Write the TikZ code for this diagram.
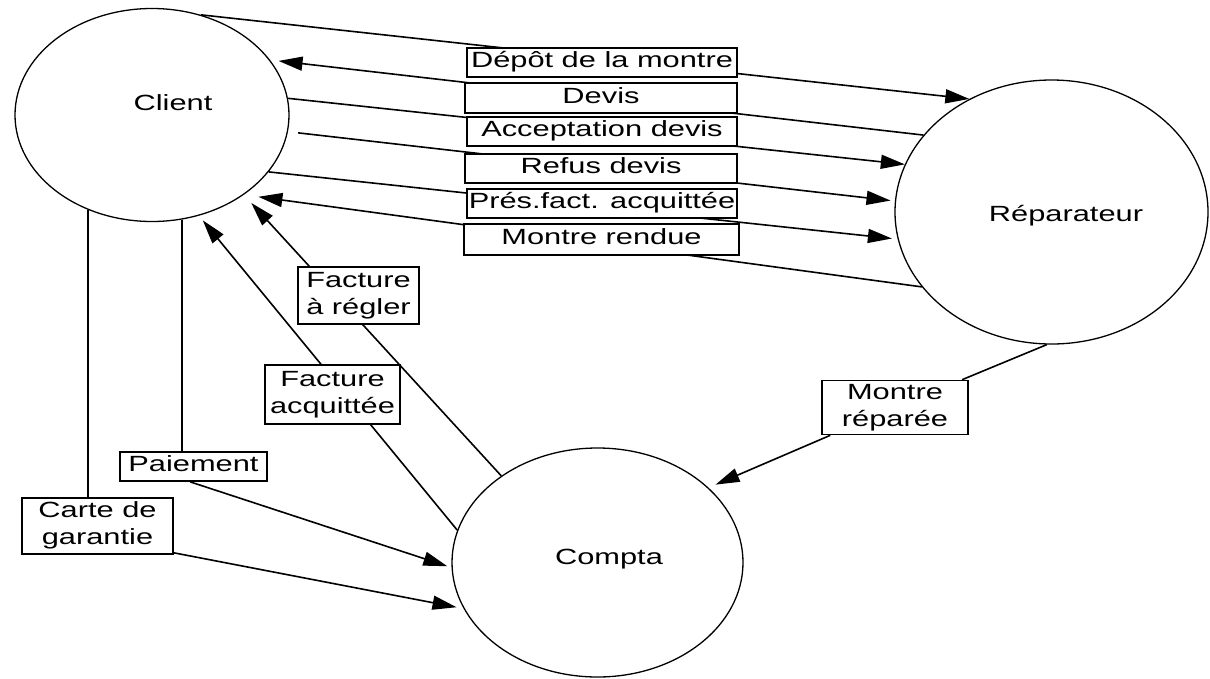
\documentclass[tikz,border=0pt]{standalone}
\usepackage{fontspec}
\setmainfont{Liberation Sans}[FakeStretch=1.4]
\usetikzlibrary{arrows.meta,shapes.geometric,backgrounds}
\newcommand\lblfont{\fontsize{22}{27}\selectfont}
\begin{document}
\begin{tikzpicture}[x=1pt,y=-1pt,
  proc/.style={ellipse, draw, line width=1.3pt, inner sep=0pt},
  procname/.style={anchor=base, inner sep=0pt, font=\lblfont},
  lbl/.style={draw, fill=white, line width=1.6pt, inner sep=0pt, align=center, font=\lblfont},
  link/.style={line width=1.6pt},
  flow/.style={link, -{Triangle[length=24pt,width=14pt]}}]
\useasboundingbox (0,0) rectangle (1210,678);

% actors
\node[proc, minimum width=274pt, minimum height=213pt] (client) at (152,115) {};
\node[proc, minimum width=313pt, minimum height=264pt] (rep) at (1051.5,212) {};
\node[proc, minimum width=291pt, minimum height=229pt] (compta) at (597.5,562.5) {};
\node[procname] (clientname) at (173,110.5) {Client};
\node[procname] (repname) at (1066,221) {Réparateur};
\node[procname] (comptaname) at (609,564) {Compta};

% flow labels
\node[lbl, minimum width=270pt, minimum height=29pt] (depot) at (602,62.5) {\strut Dépôt de la montre};
\node[lbl, minimum width=272pt, minimum height=30pt] (devis) at (601,98) {\strut Devis};
\node[lbl, minimum width=270pt, minimum height=29pt] (accept) at (602,131.5) {\strut Acceptation devis};
\node[lbl, minimum width=272pt, minimum height=29pt] (refus) at (601,168.5) {\strut Refus devis};
\node[lbl, minimum width=270pt, minimum height=29pt] (pres) at (602,203.5) {\strut Prés.fact. acquittée};
\node[lbl, minimum width=275pt, minimum height=31pt] (rendue) at (601.5,239.5) {\strut Montre rendue};
\node[lbl, minimum width=121pt, minimum height=57pt] (fregler) at (358.5,295.5) {\strut Facture\\\strut à régler};
\node[lbl, minimum width=135pt, minimum height=59pt] (facq) at (332.5,394.5) {\strut Facture\\\strut acquittée};
\node[lbl, minimum width=147pt, minimum height=29pt] (paie) at (193.5,466.5) {\strut Paiement};
\node[lbl, minimum width=151pt, minimum height=56pt] (carte) at (97.5,526) {\strut Carte de\\\strut garantie};
\node[lbl, minimum width=146pt, minimum height=53pt] (mr) at (895,407.5) {\strut Montre\\\strut réparée};

% flows, drawn beneath the labels
\begin{pgfonlayer}{background}
\draw[flow] (client.64.4) -- (rep.126.7);
\draw[flow, shorten >=8.5pt] (rep.149.6) -- (client.25.65);
\draw[flow] (client.7.1) -- (rep.162.7);
\draw[flow, shorten <=10.2pt, shorten >=4.4pt] (client.-7.93) -- (rep.176.9);
\draw[flow, shorten >=5.8pt] (client.-26.2) -- (rep.-170.9);
\draw[flow, shorten >=14.7pt] (rep.210.4) -- (client.-41.5);
\draw[flow, shorten >=11pt] (compta.138.1) -- (client.-41.4);
\draw[flow, shorten >=6pt] (compta.167) -- (client.-65.3);
\draw[link] (client.-74.1) -- (client.-74.1 |- paie.north);
\draw[flow, shorten >=4.4pt] ([xshift=-3.5pt]paie.south) -- (compta.182.3);
\draw[link] (client.-124.4) -- (client.-124.4 |- carte.north);
\draw[flow, shorten >=7.2pt] ([yshift=2pt]carte.south east) -- (compta.199);
\draw[flow, shorten >=7.6pt] (rep.-92.8) -- (mr) -- (compta.34);
\end{pgfonlayer}
\end{tikzpicture}
\end{document}
